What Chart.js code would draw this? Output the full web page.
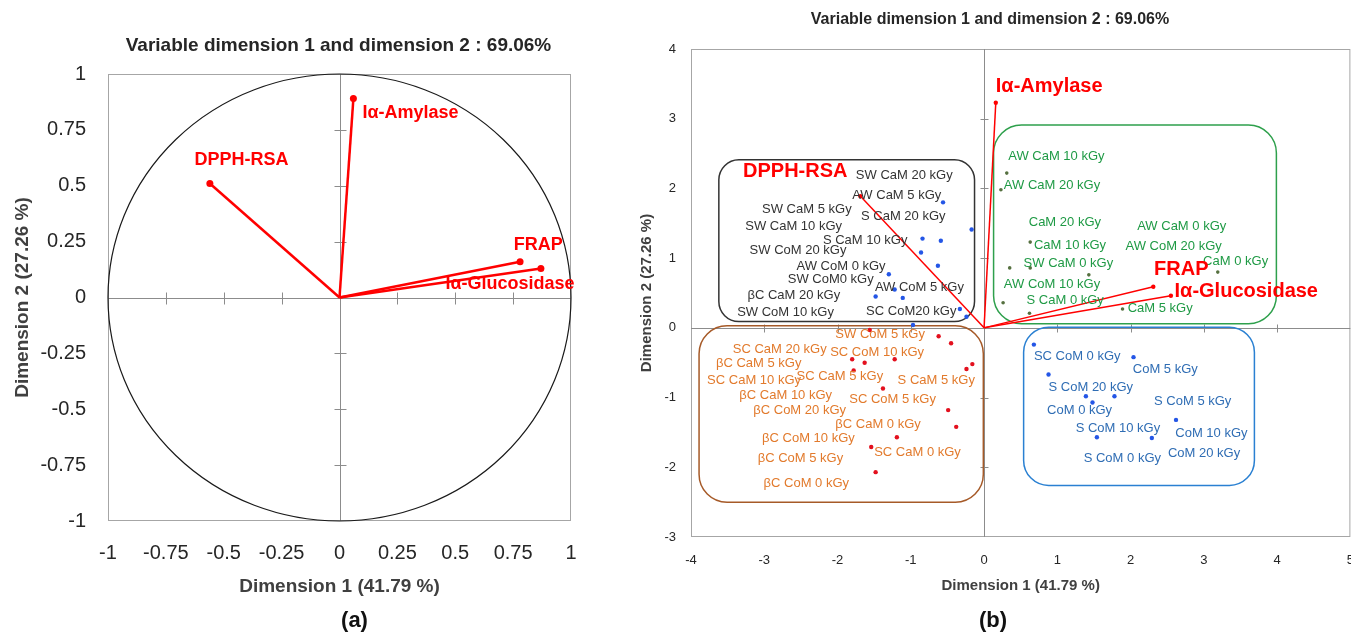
<!DOCTYPE html>
<html>
<head>
<meta charset="utf-8">
<script src="https://cdn.jsdelivr.net/npm/chart.js@4.4.1/dist/chart.umd.min.js"></script>
<style>
  html, body { margin: 0; padding: 0; background: #fff; overflow: hidden; }
  canvas { position: absolute; top: 0; }
</style>
</head>
<body>
<canvas id="chartA" width="620" height="632" style="left:0"></canvas>
<canvas id="chartB" width="740" height="632" style="left:630px"></canvas>
<script>
// panel (a): correlation circle of the variables
const varNames = ['DPPH-RSA', 'Iα-Amylase', 'FRAP', 'Iα-Glucosidase'];
const varDim1 = [-0.56, 0.06, 0.78, 0.87];
const varDim2 = [0.51, 0.89, 0.16, 0.13];
const varLabelX = [-0.626, 0.099, 0.753, 0.458];
const varLabelY = [0.613, 0.826, 0.236, 0.061];

// panel (b): biplot, variable arrows
const bipDim1 = [-1.69, 0.16, 2.31, 2.55];
const bipDim2 = [1.89, 3.23, 0.59, 0.46];
const bipLabelX = [-3.29, 0.16, 2.32, 2.60];
const bipLabelY = [2.24, 3.46, 0.84, 0.52];

// panel (b): samples, black box
const blackDim1 = [-0.56, -0.17, -0.84, -0.59, -0.86, -0.63, -1.30, -1.22, -1.48, -1.11, -0.33, -0.24, -0.97];
const blackDim2 = [1.80, 1.41, 1.28, 1.25, 1.08, 0.89, 0.77, 0.55, 0.45, 0.43, 0.27, 0.16, 0.04];
const blackNames = ['SW CaM 20 kGy', 'AW CaM 5 kGy', 'SW CaM 5 kGy', 'S CaM 20 kGy', 'SW CaM 10 kGy',
  'S CaM 10 kGy', 'SW CoM 20 kGy', 'AW CoM 0 kGy', 'SW CoM0 kGy', 'AW CoM 5 kGy', 'βC CaM 20 kGy',
  'SC CoM20 kGy', 'SW CoM 10 kGy'];
const blackNameX = [-1.75, -1.80, -3.03, -1.68, -3.26, -2.20, -3.20, -2.56, -2.68, -1.49, -3.23, -1.61, -3.37];
const blackNameY = [2.18, 1.90, 1.70, 1.60, 1.46, 1.26, 1.11, 0.88, 0.70, 0.58, 0.47, 0.24, 0.22];

// green box
const greenDim1 = [0.31, 0.23, 0.63, 0.35, 0.63, 1.43, 3.19, 0.26, 0.62, 1.89];
const greenDim2 = [2.22, 1.98, 1.23, 0.86, 0.86, 0.76, 0.80, 0.36, 0.21, 0.27];
const greenNames = ['AW CaM 10 kGy', 'AW CaM 20 kGy', 'CaM 20 kGy', 'AW CaM 0 kGy', 'CaM 10 kGy',
  'AW CoM 20 kGy', 'SW CaM 0 kGy', 'CaM 0 kGy', 'AW CoM 10 kGy', 'S CaM 0 kGy', 'CaM 5 kGy'];
const greenNameX = [0.33, 0.27, 0.61, 2.09, 0.68, 1.93, 0.54, 2.99, 0.27, 0.58, 1.96];
const greenNameY = [2.46, 2.04, 1.51, 1.46, 1.18, 1.17, 0.92, 0.96, 0.62, 0.40, 0.28];

// orange box
const orangeDim1 = [-1.56, -0.62, -0.45, -1.80, -1.63, -1.22, -0.16, -0.24, -1.78, -1.38, -0.49, -0.38, -1.19, -1.54, -1.48];
const orangeDim2 = [-0.03, -0.12, -0.22, -0.45, -0.50, -0.45, -0.52, -0.59, -0.61, -0.87, -1.18, -1.42, -1.57, -1.71, -2.07];
const orangeNames = ['SW CoM 5 kGy', 'SC CaM 20 kGy', 'SC CoM 10 kGy', 'βC CaM 5 kGy', 'SC CaM 10 kGy',
  'SC CaM 5 kGy', 'S CaM 5 kGy', 'βC CaM 10 kGy', 'SC CoM 5 kGy', 'βC CoM 20 kGy', 'βC CaM 0 kGy',
  'βC CoM 10 kGy', 'SC CaM 0 kGy', 'βC CoM 5 kGy', 'βC CoM 0 kGy'];
const orangeNameX = [-2.03, -3.43, -2.10, -3.66, -3.78, -2.56, -1.18, -3.34, -1.84, -3.15, -2.03, -3.03, -1.50, -3.09, -3.01];
const orangeNameY = [-0.09, -0.31, -0.35, -0.51, -0.76, -0.70, -0.76, -0.97, -1.02, -1.18, -1.38, -1.59, -1.79, -1.87, -2.23];

// blue box
const blueDim1 = [0.68, 2.04, 0.88, 1.39, 1.48, 1.78, 2.62, 1.54, 2.29];
const blueDim2 = [-0.24, -0.42, -0.67, -0.98, -1.07, -0.98, -1.32, -1.57, -1.58];
const blueNames = ['SC CoM 0 kGy', 'CoM 5 kGy', 'S CoM 20 kGy', 'S CoM 5 kGy', 'CoM 0 kGy',
  'S CoM 10 kGy', 'CoM 10 kGy', 'CoM 20 kGy', 'S CoM 0 kGy'];
const blueNameX = [0.68, 2.03, 0.88, 2.32, 0.86, 1.25, 2.61, 2.51, 1.36];
const blueNameY = [-0.41, -0.60, -0.86, -1.06, -1.18, -1.44, -1.51, -1.80, -1.88];

// group boxes: [x1, y1, x2, y2] in dimension units
const blackBox = [-3.62, 2.41, -0.13, 0.09];
const greenBox = [0.13, 2.91, 3.99, 0.06];
const orangeBox = [-3.89, 0.03, -0.01, -2.50];
const blueBox = [0.54, 0.01, 3.69, -2.26];

const FAMILY = '"Liberation Sans", Arial, sans-serif';

const groups = [
  {dim1: blackDim1, dim2: blackDim2, names: blackNames, nx: blackNameX, ny: blackNameY, box: blackBox,
   point: '#2456e6', text: '#333333', edge: '#333333', radius: 20, r: 2.2},
  {dim1: greenDim1, dim2: greenDim2, names: greenNames, nx: greenNameX, ny: greenNameY, box: greenBox,
   point: '#55703f', text: '#1f9a45', edge: '#2ea04c', radius: 28, r: 1.8},
  {dim1: orangeDim1, dim2: orangeDim2, names: orangeNames, nx: orangeNameX, ny: orangeNameY, box: orangeBox,
   point: '#e3101e', text: '#e27a2c', edge: '#a65a28', radius: 28, r: 2.2},
  {dim1: blueDim1, dim2: blueDim2, names: blueNames, nx: blueNameX, ny: blueNameY, box: blueBox,
   point: '#2456e6', text: '#2f6db4', edge: '#2a80d2', radius: 25, r: 2.2}
];

function drawFrame(chart, tick) {
  const {ctx, chartArea: a, scales: {x, y}} = chart;
  const x0 = Math.round(x.getPixelForValue(0)) + 0.5;
  const y0 = Math.round(y.getPixelForValue(0)) + 0.5;
  ctx.save();
  ctx.lineWidth = 1;
  ctx.strokeStyle = '#a6a6a6';
  ctx.strokeRect(a.left + 0.5, a.top + 0.5, a.width - 1, a.height - 1);
  ctx.strokeStyle = '#8c8c8c';
  ctx.beginPath();
  ctx.moveTo(x0, a.top); ctx.lineTo(x0, a.bottom);
  ctx.moveTo(a.left, y0); ctx.lineTo(a.right, y0);
  x.ticks.forEach(t => {
    if (t.value === 0 || t.value <= x.min || t.value >= x.max) return;
    const px = Math.round(x.getPixelForValue(t.value)) + 0.5;
    ctx.moveTo(px, y0 - tick); ctx.lineTo(px, y0 + tick);
  });
  y.ticks.forEach(t => {
    if (t.value === 0 || t.value <= y.min || t.value >= y.max) return;
    const py = Math.round(y.getPixelForValue(t.value)) + 0.5;
    ctx.moveTo(x0 - tick, py); ctx.lineTo(x0 + tick, py);
  });
  ctx.stroke();
  ctx.restore();
}

function roundBox(ctx, x1, y1, x2, y2, r) {
  ctx.beginPath();
  ctx.moveTo(x1 + r, y1);
  ctx.arcTo(x2, y1, x2, y2, r);
  ctx.arcTo(x2, y2, x1, y2, r);
  ctx.arcTo(x1, y2, x1, y1, r);
  ctx.arcTo(x1, y1, x2, y1, r);
  ctx.closePath();
  ctx.stroke();
}

function text(ctx, str, px, py, font, color, align) {
  ctx.font = font;
  ctx.fillStyle = color;
  ctx.textAlign = align || 'left';
  ctx.textBaseline = 'middle';
  ctx.fillText(str, px, py);
}

const panelA = {
  id: 'panelA',
  beforeDatasetsDraw(chart) {
    const {ctx, scales: {x, y}} = chart;
    drawFrame(chart, 6);
    const cx = x.getPixelForValue(0), cy = y.getPixelForValue(0);
    ctx.save();
    ctx.strokeStyle = '#1a1a1a';
    ctx.lineWidth = 1.2;
    ctx.beginPath();
    ctx.ellipse(cx, cy, x.getPixelForValue(1) - cx, cy - y.getPixelForValue(1), 0, 0, Math.PI * 2);
    ctx.stroke();
    ctx.restore();
  },
  afterDatasetsDraw(chart) {
    const {ctx, chartArea: a, scales: {x, y}} = chart;
    ctx.save();
    varNames.forEach((n, i) => {
      text(ctx, n, x.getPixelForValue(varLabelX[i]), y.getPixelForValue(varLabelY[i]),
        'bold 18px ' + FAMILY, '#ff0000');
    });
    const mid = (a.left + a.right) / 2;
    text(ctx, 'Variable dimension 1 and dimension 2 : 69.06%', mid - 1, a.top - 28,
      'bold 19px ' + FAMILY, '#262626', 'center');
    text(ctx, '(a)', mid + 15, 621, 'bold 22px ' + FAMILY, '#111111', 'center');
    ctx.restore();
  }
};

const panelB = {
  id: 'panelB',
  beforeDatasetsDraw(chart) {
    const {ctx, scales: {x, y}} = chart;
    drawFrame(chart, 4);
    ctx.save();
    ctx.lineWidth = 1.5;
    groups.forEach(g => {
      ctx.strokeStyle = g.edge;
      roundBox(ctx, x.getPixelForValue(g.box[0]), y.getPixelForValue(g.box[1]),
        x.getPixelForValue(g.box[2]), y.getPixelForValue(g.box[3]), g.radius);
    });
    ctx.restore();
  },
  afterDatasetsDraw(chart) {
    const {ctx, scales: {x, y}} = chart;
    ctx.save();
    groups.forEach(g => {
      g.names.forEach((n, i) => {
        text(ctx, n, x.getPixelForValue(g.nx[i]), y.getPixelForValue(g.ny[i]), '13px ' + FAMILY, g.text);
      });
    });
    varNames.forEach((n, i) => {
      text(ctx, n, x.getPixelForValue(bipLabelX[i]), y.getPixelForValue(bipLabelY[i]),
        'bold 20px ' + FAMILY, '#ff0000');
    });
    text(ctx, 'Variable dimension 1 and dimension 2 : 69.06%', 360, 20, 'bold 16px ' + FAMILY, '#262626', 'center');
    text(ctx, '(b)', 363, 621, 'bold 22px ' + FAMILY, '#111111', 'center');
    ctx.restore();
  }
};

function axis(min, max, step, tickSize, tickPad, title, titleSize, titlePad, fit) {
  return {
    min: min, max: max,
    ticks: {stepSize: step, padding: tickPad, color: '#262626', font: {size: tickSize, family: FAMILY},
      callback: v => String(v)},
    grid: {display: false, drawTicks: false},
    border: {display: false},
    title: {display: true, text: title, color: '#404040', padding: titlePad,
      font: {size: titleSize, weight: 'bold', family: FAMILY}},
    afterFit: fit
  };
}

new Chart(document.getElementById('chartA'), {
  type: 'scatter',
  data: {
    datasets: varNames.map((n, i) => ({
      label: n,
      data: [{x: 0, y: 0}, {x: varDim1[i], y: varDim2[i]}],
      showLine: true,
      borderColor: '#ff0000',
      borderWidth: 2.5,
      pointRadius: [0, 3.5],
      pointBackgroundColor: '#ff0000',
      pointBorderWidth: 0
    }))
  },
  options: {
    responsive: false,
    animation: false,
    devicePixelRatio: 1,
    layout: {padding: {top: 74, right: 49, bottom: 31, left: 0}},
    plugins: {legend: {display: false}, tooltip: {enabled: false}},
    scales: {
      x: axis(-1, 1, 0.25, 20, 20, 'Dimension 1 (41.79 %)', 19, {top: 0, bottom: 3}, s => { s.height = 80; }),
      y: axis(-1, 1, 0.25, 20, 22, 'Dimension 2 (27.26 %)', 19, {top: 11, bottom: 0}, s => { s.width = 108; })
    }
  },
  plugins: [panelA]
});

const bDatasets = groups.map(g => ({
  data: g.dim1.map((v, i) => ({x: v, y: g.dim2[i]})),
  pointRadius: g.r,
  pointBackgroundColor: g.point,
  pointBorderWidth: 0
}));
varNames.forEach((n, i) => {
  bDatasets.push({
    label: n,
    data: [{x: 0, y: 0}, {x: bipDim1[i], y: bipDim2[i]}],
    showLine: true,
    borderColor: '#ff0000',
    borderWidth: 1.5,
    pointRadius: [0, 2.2],
    pointBackgroundColor: '#ff0000',
    pointBorderWidth: 0
  });
});

new Chart(document.getElementById('chartB'), {
  type: 'scatter',
  data: {datasets: bDatasets},
  options: {
    responsive: false,
    animation: false,
    devicePixelRatio: 1,
    layout: {padding: {top: 49, right: 16, bottom: 37, left: 0}},
    plugins: {legend: {display: false}, tooltip: {enabled: false}},
    scales: {
      x: axis(-4, 5, 1, 13, 16, 'Dimension 1 (41.79 %)', 15, {top: 0, bottom: 0}, s => { s.height = 58; }),
      y: axis(-3, 4, 1, 13, 15, 'Dimension 2 (27.26 %)', 15, {top: 8, bottom: 0}, s => { s.width = 61; })
    }
  },
  plugins: [panelB]
});
</script>
</body>
</html>
